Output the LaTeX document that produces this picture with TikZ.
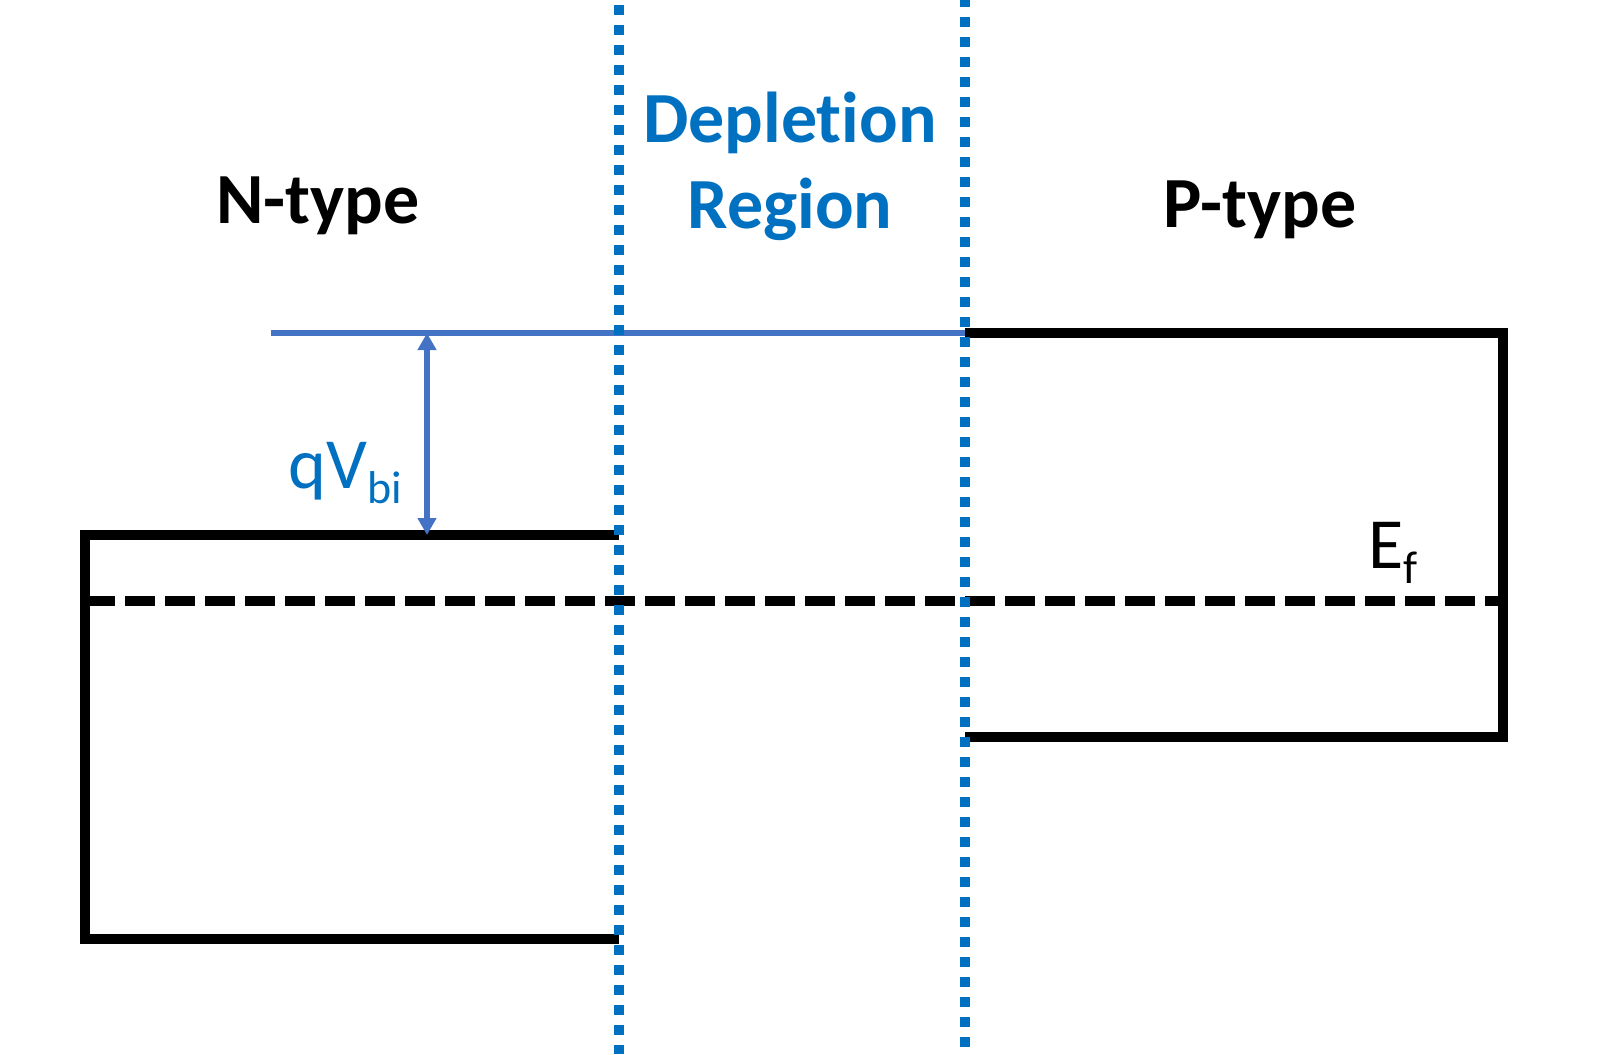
\documentclass[tikz,border=0pt]{standalone}
\usepackage{fontspec}
\setmainfont{Carlito}[Ligatures=NoCommon]
\usepackage{xcolor}
\usepackage{tikz}
\usetikzlibrary{arrows.meta}
\definecolor{dotblue}{HTML}{0070C0}
\definecolor{linblue}{HTML}{4472C4}
\newcommand{\sub}[1]{\raisebox{-7.5pt}{\fontsize{23}{27}\selectfont #1}}

\begin{document}
\begin{tikzpicture}[
  x=0.5pt, y=-0.5pt,
  band/.style={line width=5pt},
  fermi/.style={line width=5pt, dash pattern=on 15pt off 5pt},
  edge/.style={draw=dotblue, line width=5pt, dash pattern=on 5pt off 5pt},
  lbl/.style={font=\fontsize{36}{43}\selectfont, inner sep=0pt, anchor=base},
  arr/.style={{Triangle[length=8.5pt,width=9pt]}-{Triangle[length=8.5pt,width=9pt]}, draw=linblue, line width=2.75pt}
]
\useasboundingbox (0,0) rectangle (1610,1054);
% labels
\node[lbl, font=\fontsize{36}{43}\selectfont\bfseries] (ntype) at (318,223) {N-type};
\node[lbl, font=\fontsize{36}{43}\selectfont\bfseries] (ptype) at (1260,227) {P-type};
\node[lbl, font=\fontsize{36}{43}\selectfont\bfseries, text=dotblue] (dep) at (790,142) {Deplet\kern0pt ion};
\node[lbl, font=\fontsize{36}{43}\selectfont\bfseries, text=dotblue] (reg) at (790,228) {Region};
\node[lbl, anchor=base west, text=dotblue] (qv) at (288,488) {qV\sub{bi}};
\node[lbl, anchor=base west] (ef) at (1368,568) {E\sub{f}};
% bands
\coordinate (vac) at (427,333);
\coordinate (nedge) at (427,535);
\draw[draw=linblue, line width=2.75pt] (271,333) -- (965,333);
\draw[band] (619,535) -- (85,535) -- (85,939) -- (619,939);
\draw[band] (965,333) -- (1503,333) -- (1503,737) -- (965,737);
\draw[fermi] (85,601) -- (1503,601);
\draw[arr] (vac) -- (nedge);
% junction edges
\draw[edge] (619,5) -- (619,1054);
\draw[edge] (965,-3) -- (965,1047);
\end{tikzpicture}
\end{document}
